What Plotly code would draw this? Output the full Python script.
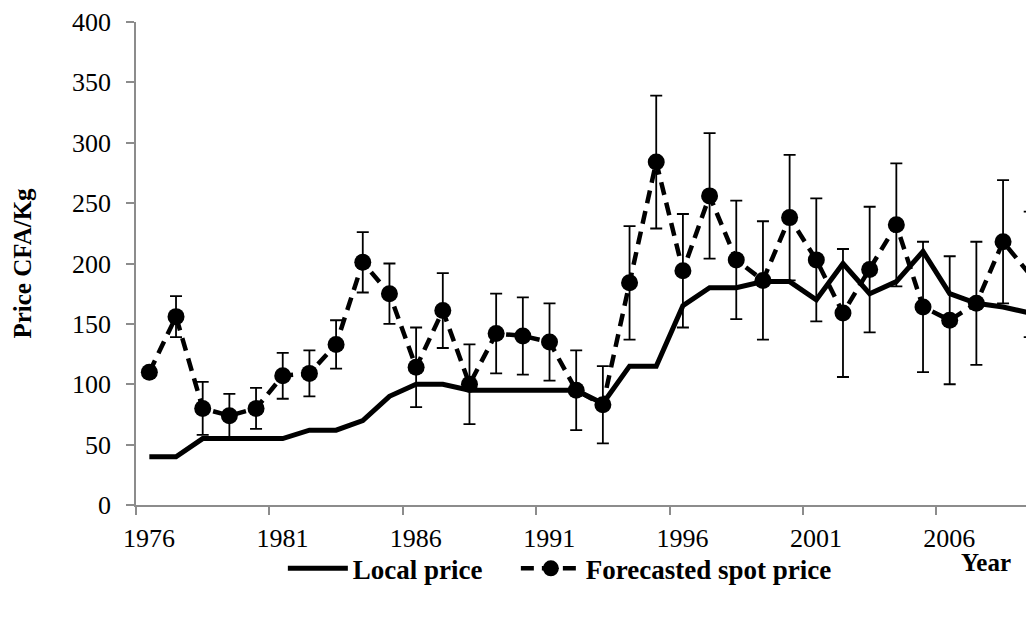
import plotly.graph_objects as go

years = [1976, 1977, 1978, 1979, 1980, 1981, 1982, 1983, 1984, 1985, 1986, 1987,
         1988, 1989, 1990, 1991, 1992, 1993, 1994, 1995, 1996, 1997, 1998, 1999,
         2000, 2001, 2002, 2003, 2004, 2005, 2006, 2007, 2008, 2009]
local_price = [40, 40, 55, 55, 55, 55, 62, 62, 70, 90, 100, 100,
               95, 95, 95, 95, 95, 84, 115, 115, 165, 180, 180, 185,
               185, 170, 200, 175, 185, 210, 175, 167, 164, 159]
forecast_price = [110, 156, 80, 74, 80, 107, 109, 133, 201, 175, 114, 161,
                  100, 142, 140, 135, 95, 83, 184, 284, 194, 256, 203, 186,
                  238, 203, 159, 195, 232, 164, 153, 167, 218, 191]
forecast_err = [0, 17, 22, 18, 17, 19, 19, 20, 25, 25, 33, 31,
                33, 33, 32, 32, 33, 32, 47, 55, 47, 52, 49, 49,
                52, 51, 53, 52, 51, 54, 53, 51, 51, 52]
tick_labels = ["1976", "1981", "1986", "1991", "1996", "2001", "2006"]
y_ticks = [0, 50, 100, 150, 200, 250, 300, 350, 400]

FONT = "Liberation Serif"
AXIS_GRAY = "#8c8c8c"

# last forecast marker is not drawn in the original
marker_sizes = [17] * (len(years) - 1) + [0]

fig = go.Figure()
fig.add_trace(go.Scatter(
    x=years, y=local_price, name="Local price", mode="lines",
    line=dict(color="#000000", width=5),
    legendwidth=158,
))
fig.add_trace(go.Scatter(
    x=years, y=forecast_price, name="Forecasted spot price", mode="lines+markers",
    line=dict(color="#000000", width=4.5, dash="13px,8px"),
    marker=dict(symbol="circle", size=marker_sizes, color="#000000", opacity=1,
                line=dict(color="#000000", width=0)),
    error_y=dict(type="data", array=forecast_err, symmetric=True,
                 color="#000000", thickness=1.8, width=6),
))

# category boundaries for tick marks (Excel style: ticks between categories)
tick_pos = [int(t) - 0.5 for t in tick_labels]

# page body has an 8px margin: figure is sized so the plot lands where the reference has it
fig.update_layout(
    width=1026, height=609,
    margin=dict(l=128, r=0, t=12, b=112),
    paper_bgcolor="white", plot_bgcolor="white",
    font=dict(family=FONT, size=26, color="black"),
    showlegend=True,
    legend=dict(orientation="h", x=0.472, xanchor="center", y=-0.132, yanchor="middle",
                font=dict(family=FONT, size=27, color="black", weight="bold"),
                bgcolor="rgba(0,0,0,0)", itemwidth=60),
    xaxis=dict(range=[years[0] - 0.5, 2009.16], showgrid=False, zeroline=False,
               showline=True, linecolor=AXIS_GRAY, linewidth=1.5,
               tickmode="array", tickvals=tick_pos, ticktext=tick_labels,
               ticks="outside", ticklen=8, tickcolor=AXIS_GRAY, tickwidth=1.5,
               ticklabelshift=13, ticklabelstandoff=1, ticklabeloverflow="allow",
               tickfont=dict(family=FONT, size=26, color="black")),
    yaxis=dict(range=[0, 400], showgrid=False, zeroline=False,
               showline=True, linecolor=AXIS_GRAY, linewidth=1.5,
               tickmode="array", tickvals=y_ticks,
               ticks="outside", ticklen=8, tickcolor=AXIS_GRAY, tickwidth=1.5,
               ticklabelstandoff=10, ticklabeloverflow="allow",
               tickfont=dict(family=FONT, size=26, color="black"),
               title=dict(text="Price CFA/Kg", standoff=33,
                          font=dict(family=FONT, size=25, color="black", weight="bold"))),
    annotations=[dict(text="<b>Year</b>", xref="paper", yref="paper",
                      x=0.9465, y=-0.12, xanchor="center", yanchor="middle",
                      showarrow=False, font=dict(family=FONT, size=25, color="black"))],
)

fig.write_html("out.html")
